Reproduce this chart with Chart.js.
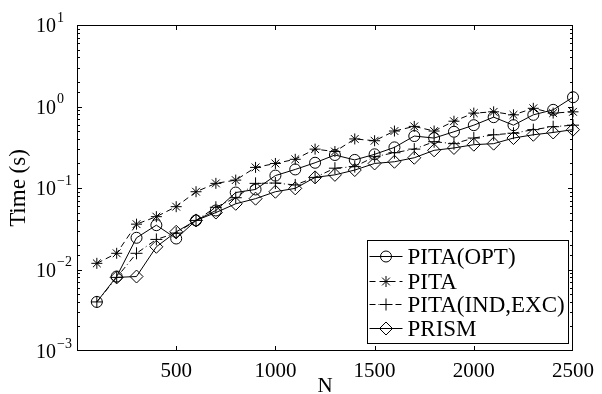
<!DOCTYPE html>
<html><head><meta charset="utf-8">
<script src="https://cdn.jsdelivr.net/npm/chart.js@4.4.1/dist/chart.umd.min.js"></script>
<style>html,body{margin:0;padding:0;background:#fff;}canvas{display:block;}</style>
</head><body>
<canvas id="c" width="602" height="394"></canvas>
<script>
// ---- data ----
const sizesN = [100,200,300,400,500,600,700,800,900,1000,1100,1200,1300,1400,1500,1600,1700,1800,1900,2000,2100,2200,2300,2400,2500];
const pitaOpt    = [0.0040,0.0082,0.0245,0.035,0.024,0.040,0.053,0.088,0.096,0.142,0.169,0.204,0.254,0.221,0.259,0.315,0.434,0.41,0.49,0.59,0.74,0.59,0.79,0.91,1.30];
const pita       = [0.0119,0.0158,0.036,0.0445,0.059,0.090,0.114,0.125,0.179,0.20,0.225,0.30,0.28,0.40,0.38,0.50,0.57,0.50,0.66,0.83,0.86,0.79,0.95,0.83,0.86];
const pitaIndExc = [0.0040,0.0080,0.0158,0.0234,0.028,0.040,0.058,0.076,0.114,0.115,0.109,0.135,0.175,0.183,0.242,0.271,0.30,0.37,0.35,0.41,0.45,0.47,0.52,0.565,0.59];
const prism      = [null,0.0080,0.0082,0.019,0.029,0.040,0.050,0.064,0.074,0.090,0.099,0.135,0.145,0.166,0.20,0.21,0.235,0.29,0.31,0.34,0.35,0.41,0.45,0.48,0.52];
const seriesNames = ['PITA(OPT)','PITA','PITA(IND,EXC)','PRISM'];
const xTickLabels = [500,1000,1500,2000,2500];
const yDecadeExponents = [-3,-2,-1,0,1];
const xAxisTitle = 'N';
const yAxisTitle = 'Time (s)';

const FONT = "'Liberation Serif','Times New Roman',Times,serif";
Chart.defaults.font.family = FONT;
Chart.defaults.color = '#000';

function toPoints(arr){
  const out = [];
  arr.forEach((v,i)=>{ if (v !== null) out.push({x: sizesN[i], y: v}); });
  return out;
}
const MINUS = '\u2212';

const styles = [
  {pointStyle:'circle', radius:5.5, dash:[]},
  {pointStyle:'star', radius:5.5, dash:[6,4]},
  {pointStyle:'cross', radius:6, dash:[6,3,1,3]},
  {pointStyle:'rectRot', radius:6.5, dash:[]}
];
const seriesData = [pitaOpt, pita, pitaIndExc, prism];

const datasets = seriesData.map((arr,i)=>({
  label: seriesNames[i],
  data: toPoints(arr),
  borderColor:'#000',
  backgroundColor:'rgba(0,0,0,0)',
  borderWidth:1,
  borderDash: styles[i].dash,
  pointStyle: styles[i].pointStyle,
  pointRadius: styles[i].radius,
  pointBorderColor:'#000',
  pointBackgroundColor:'rgba(0,0,0,0)',
  pointBorderWidth:1,
  tension:0,
  clip:false
}));

function drawMarker(ctx, st, x, y){
  ctx.save();
  ctx.setLineDash([]);
  ctx.strokeStyle='#000'; ctx.fillStyle='rgba(0,0,0,0)'; ctx.lineWidth=1;
  if (Chart.helpers && Chart.helpers.drawPoint) {
    Chart.helpers.drawPoint(ctx, {pointStyle: st.pointStyle, radius: st.radius, borderWidth:1, rotation:0}, x, y);
  }
  ctx.restore();
}

const framePlugin = {
  id:'frame',
  afterDraw(chart){
    const ctx = chart.ctx, ca = chart.chartArea;
    const xs = chart.scales.x, ys = chart.scales.y;
    ctx.save();
    ctx.strokeStyle='#000'; ctx.lineWidth=1; ctx.setLineDash([]);
    ctx.strokeRect(Math.round(ca.left)+0.5, Math.round(ca.top)+0.5, Math.round(ca.right-ca.left)-1, Math.round(ca.bottom-ca.top)-1);
    ctx.beginPath();
    ys.ticks.forEach(t=>{
      const e = Math.log10(t.value);
      const major = Math.abs(e-Math.round(e))<1e-9;
      const len = major?5:3;
      const py = Math.round(ys.getPixelForValue(t.value))+0.5;
      if (py <= ca.top+1 || py >= ca.bottom-1) return;
      ctx.moveTo(ca.left, py); ctx.lineTo(ca.left+len, py);
      ctx.moveTo(ca.right, py); ctx.lineTo(ca.right-len, py);
    });
    xs.ticks.forEach(t=>{
      const px = Math.round(xs.getPixelForValue(t.value))+0.5;
      if (px <= ca.left+1 || px >= ca.right-1) return;
      ctx.moveTo(px, ca.bottom); ctx.lineTo(px, ca.bottom-5);
      ctx.moveTo(px, ca.top); ctx.lineTo(px, ca.top+5);
    });
    ctx.stroke();

    // y tick labels: 10 with raised exponent
    ctx.fillStyle='#000';
    ctx.textBaseline='middle'; ctx.textAlign='left';
    yDecadeExponents.forEach(e=>{
      const py = ys.getPixelForValue(Math.pow(10,e));
      ctx.font = '20px ' + FONT;
      const baseX = 36;
      ctx.fillText('10', baseX, py+2);
      const w = ctx.measureText('10').width;
      ctx.font = '14px ' + FONT;
      ctx.fillText(String(e).replace('-', MINUS), baseX + w + 1, py-7);
    });

    // legend
    const bw = 201, bh = 103;
    const bx = Math.round(ca.right - 5 - bw)+0.5, by = Math.round(ca.bottom - 8 - bh)+0.5;
    ctx.fillStyle='#fff';
    ctx.fillRect(bx, by, bw, bh);
    ctx.strokeRect(bx, by, bw, bh);
    const rowY = [15, 40, 63, 87];
    ctx.font = '23px ' + FONT;
    ctx.textBaseline='middle'; ctx.textAlign='left';
    seriesNames.forEach((name,i)=>{
      const y = Math.round(by + rowY[i]) + 0.5;
      ctx.save();
      ctx.beginPath();
      ctx.setLineDash(styles[i].dash);
      ctx.moveTo(bx+2, y); ctx.lineTo(bx+35, y);
      ctx.stroke();
      ctx.restore();
      drawMarker(ctx, styles[i], bx+18.5, y);
      ctx.fillStyle='#000';
      ctx.font = '23px ' + FONT;
      ctx.fillText(name, bx+40, y+1);
    });
    ctx.restore();
  }
};

new Chart(document.getElementById('c'), {
  type:'line',
  data:{datasets},
  plugins:[framePlugin],
  options:{
    responsive:false,
    devicePixelRatio:1,
    animation:false,
    layout:{padding:{top:25, right:24, left:0, bottom:0}},
    plugins:{legend:{display:false}, tooltip:{enabled:false}},
    scales:{
      x:{
        type:'linear', min:0, max:2500,
        grid:{display:false, drawTicks:false}, border:{display:false},
        afterFit(s){ s.height = 43; },
        ticks:{stepSize:500, autoSkip:false, maxRotation:0, padding:8, color:'#000', font:{size:21},
          callback:(v)=> xTickLabels.includes(v) ? String(v) : ''},
        title:{display:true, text:xAxisTitle, color:'#000', font:{size:21, lineHeight:0.7}, padding:{top:0,bottom:0}}
      },
      y:{
        type:'logarithmic', min:1e-3, max:10,
        grid:{display:false, drawTicks:false}, border:{display:false},
        afterFit(s){ s.width = 77; },
        ticks:{autoSkip:false, padding:5, color:'#000', font:{size:20},
          callback:()=> ''},
        title:{display:true, text:yAxisTitle, color:'#000', font:{size:23}, padding:{top:5,bottom:0}}
      }
    }
  }
});
</script>
</body></html>
